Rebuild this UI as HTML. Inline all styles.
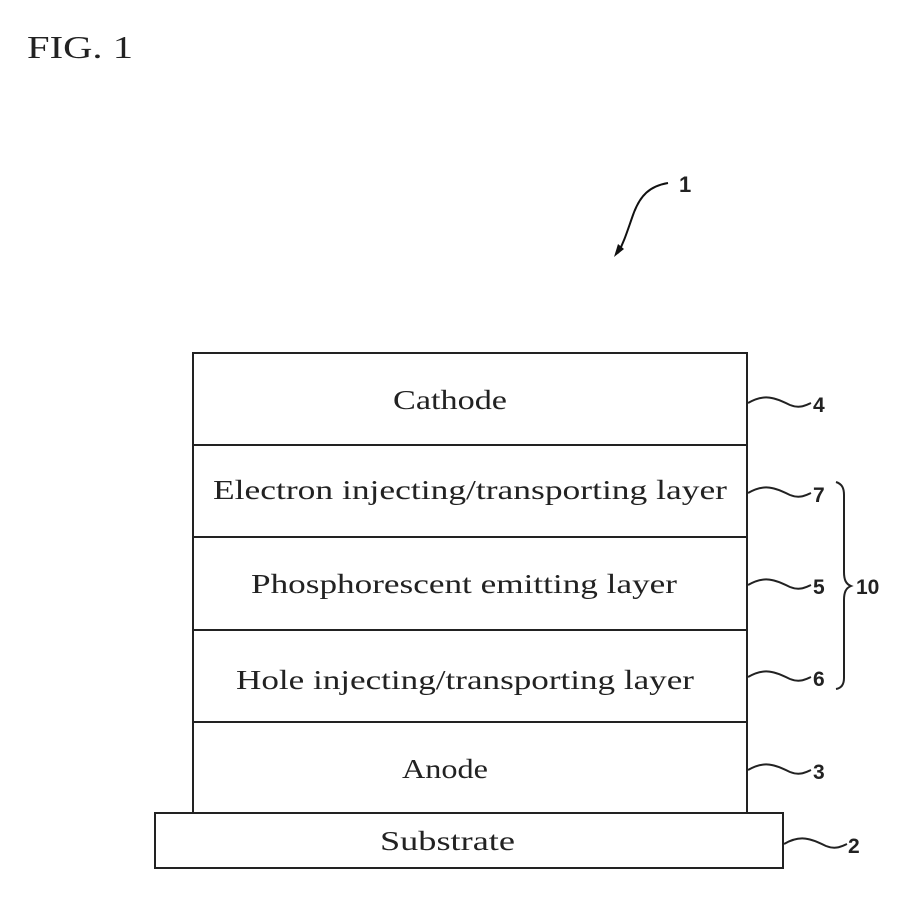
<!DOCTYPE html>
<html><head><meta charset="utf-8"><style>
html,body{margin:0;padding:0;background:#fff;}
svg{display:block;}
text{font-family:"Liberation Serif",serif;fill:#222;}
</style></head><body>
<svg width="921" height="921" viewBox="0 0 921 921" xmlns="http://www.w3.org/2000/svg">
<text x="27" y="58" font-size="32" textLength="106" lengthAdjust="spacingAndGlyphs">FIG. 1</text>
<path d="M668,183 C650,186 640,195 633,215 C627,232 624,242 618,253" fill="none" stroke="#111" stroke-width="2"/>
<polygon points="614,257 618,244 624,249" fill="#111"/>
<text x="679" y="192" font-size="22" style="font-family:'Liberation Sans',sans-serif" font-weight="bold">1</text>
<g fill="none" stroke="#222" stroke-width="2">
<rect x="193" y="353" width="554" height="460"/>
<line x1="193" y1="445" x2="747" y2="445"/>
<line x1="193" y1="537" x2="747" y2="537"/>
<line x1="193" y1="630" x2="747" y2="630"/>
<line x1="193" y1="722" x2="747" y2="722"/>
<rect x="155" y="813" width="628" height="55"/>
<path d="M748,403 C765,393 775,398 790,405 C800,409 806,405 811,403"/>
<path d="M748,493 C765,483 775,488 790,495 C800,499 806,495 811,493"/>
<path d="M748,585 C765,575 775,580 790,587 C800,591 806,587 811,585"/>
<path d="M748,677 C765,667 775,672 790,679 C800,683 806,679 811,677"/>
<path d="M748,770 C765,760 775,765 790,772 C800,776 806,772 811,770"/>
<path d="M784,844 C801,834 811,839 826,846 C836,850 842,846 847,844"/>
<path d="M836,482 C842,484 844,488 844,495 L844,572 C844,580 846,584 851,586 C846,588 844,592 844,600 L844,678 C844,684 842,688 836,689"/>
</g>
<g font-size="27">
<text x="393" y="409" textLength="114" lengthAdjust="spacingAndGlyphs">Cathode</text>
<text x="213" y="499" textLength="514" lengthAdjust="spacingAndGlyphs">Electron injecting/transporting layer</text>
<text x="251" y="593" textLength="426" lengthAdjust="spacingAndGlyphs">Phosphorescent emitting layer</text>
<text x="236" y="689" textLength="458" lengthAdjust="spacingAndGlyphs">Hole injecting/transporting layer</text>
<text x="402" y="778" textLength="86" lengthAdjust="spacingAndGlyphs">Anode</text>
<text x="380" y="850" textLength="135" lengthAdjust="spacingAndGlyphs">Substrate</text>
</g>
<g font-size="21" font-weight="bold">
<text x="813" y="412" style="font-family:'Liberation Sans',sans-serif">4</text>
<text x="813" y="502" style="font-family:'Liberation Sans',sans-serif">7</text>
<text x="813" y="594" style="font-family:'Liberation Sans',sans-serif">5</text>
<text x="813" y="686" style="font-family:'Liberation Sans',sans-serif">6</text>
<text x="813" y="779" style="font-family:'Liberation Sans',sans-serif">3</text>
<text x="848" y="853" style="font-family:'Liberation Sans',sans-serif">2</text>
<text x="856" y="594" style="font-family:'Liberation Sans',sans-serif">10</text>
</g>
</svg>
</body></html>
